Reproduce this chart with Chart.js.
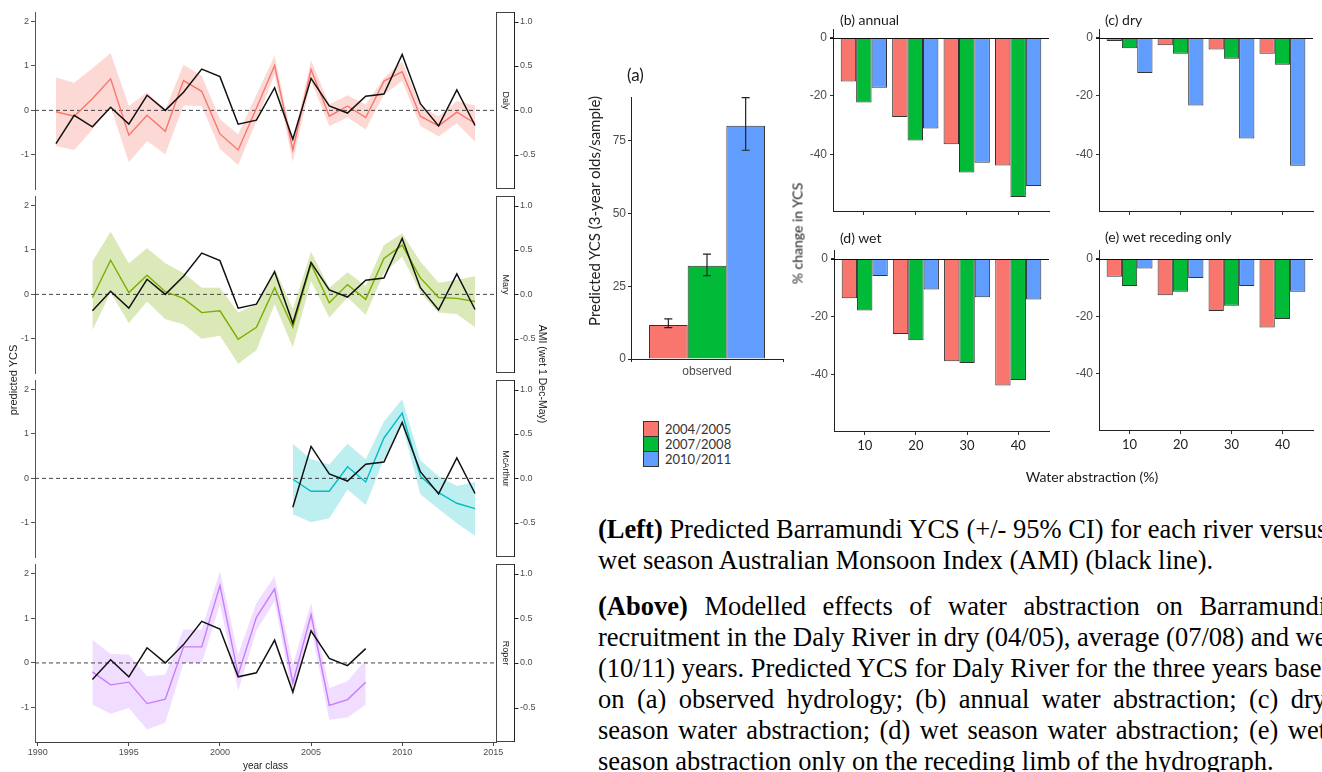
<!DOCTYPE html>
<html lang="en">
<head>
<meta charset="utf-8">
<title>Barramundi YCS</title>
<script src="https://cdn.jsdelivr.net/npm/chart.js@4.4.0/dist/chart.umd.min.js"></script>
<style>
  body { margin:0; width:1322px; height:772px; overflow:hidden; background:#fff; position:relative;
         font-family:'Liberation Sans', Arial, sans-serif; }
  canvas { position:absolute; }
  .lbl { position:absolute; white-space:nowrap; color:#1a1a1a; font-weight:400; }
  .rot { transform-origin:center center; }
  .cap { position:absolute; left:598px; font-family:'Liberation Serif','Times New Roman',serif;
         font-size:26.5px; color:#000; }
  .cap div { height:31px; line-height:31px; white-space:nowrap; }
  .key { position:absolute; width:14px; height:14px; border:1px solid #333; }
</style>
</head>
<body>
<!-- left: YCS by river -->
<canvas id="daly" width="540" height="185" style="left:0;top:8px"></canvas>
<canvas id="mary" width="540" height="185" style="left:0;top:192px"></canvas>
<canvas id="mcarthur" width="540" height="185" style="left:0;top:376px"></canvas>
<canvas id="roper" width="540" height="212" style="left:0;top:560px"></canvas>
<div class="lbl rot" style="left:-32px;top:374px;width:90px;text-align:center;font-size:11px;transform:rotate(-90deg);">predicted YCS</div>
<div class="lbl rot" style="left:488px;top:368px;width:110px;text-align:center;font-size:10.5px;transform:rotate(90deg);">AMI (wet 1 Dec-May)</div>

<!-- right: water abstraction -->
<canvas id="obs" width="240" height="340" style="left:560px;top:60px"></canvas>
<div class="lbl" style="left:627px;top:64px;font-family:Lato;font-size:17px;">(a)</div>
<div class="lbl rot" style="left:469px;top:202px;width:250px;text-align:center;font-family:Lato;font-size:15px;color:#222;transform:rotate(-90deg);">Predicted YCS (3-year olds/sample)</div>
<div class="key" style="left:643px;top:421px;background:#F8766D"></div>
<div class="key" style="left:643px;top:436px;background:#00BA38"></div>
<div class="key" style="left:643px;top:451px;background:#619CFF"></div>
<div class="lbl" style="left:665px;top:421px;font-family:Lato;font-size:13px;color:#333">2004/2005</div>
<div class="lbl" style="left:665px;top:436px;font-family:Lato;font-size:13px;color:#333">2007/2008</div>
<div class="lbl" style="left:665px;top:451px;font-family:Lato;font-size:13px;color:#333">2010/2011</div>

<canvas id="annual" width="265" height="225" style="left:790px;top:0"></canvas>
<canvas id="dry" width="267" height="225" style="left:1055px;top:0"></canvas>
<canvas id="wet" width="265" height="240" style="left:790px;top:225px"></canvas>
<canvas id="receding" width="267" height="240" style="left:1055px;top:225px"></canvas>
<div class="lbl" style="left:840px;top:11px;font-family:Lato;font-size:14px;">(b) annual</div>
<div class="lbl" style="left:1105px;top:11px;font-family:Lato;font-size:14px;">(c) dry</div>
<div class="lbl" style="left:840px;top:229px;font-family:Lato;font-size:14px;">(d) wet</div>
<div class="lbl" style="left:1105px;top:228px;font-family:Lato;font-size:14px;">(e) wet receding only</div>
<div class="lbl rot" style="left:737px;top:225px;width:120px;text-align:center;font-family:Lato;font-size:14px;color:#222;transform:rotate(-90deg);">% change in YCS</div>
<div class="lbl" style="left:1012px;top:468px;width:160px;text-align:center;font-family:Lato;font-size:14px;">Water abstraction (%)</div>

<div class="cap" style="top:514px">
  <div class="j"><span><b>(Left)</b> Predicted Barramundi YCS (+/- 95% CI) for each river versus</span></div>
  <div><span>wet season Australian Monsoon Index (AMI) (black line).</span></div>
</div>
<div class="cap" style="top:591px">
  <div class="j"><span><b>(Above)</b> Modelled effects of water abstraction on Barramundi</span></div>
  <div class="j"><span>recruitment in the Daly River in dry (04/05), average (07/08) and wet</span></div>
  <div class="j"><span>(10/11) years. Predicted YCS for Daly River for the three years based</span></div>
  <div class="j"><span>on (a) observed hydrology; (b) annual water abstraction; (c) dry</span></div>
  <div class="j"><span>season water abstraction; (d) wet season water abstraction; (e) wet</span></div>
  <div><span>season abstraction only on the receding limb of the hydrograph.</span></div>
</div>

<script>
// ---- data: left panels (YCS per river, AMI) ----
var amiStart = 1991;
var ami = [-0.375, -0.055, -0.185, 0.035, -0.155, 0.17, 0.0, 0.205, 0.465, 0.38, -0.155, -0.11,
           0.255, -0.325, 0.36, 0.05, -0.03, 0.16, 0.185, 0.63, 0.075, -0.175, 0.23, -0.17];

var dalyStart = 1991;
var dalyFit = [-0.03, -0.13, 0.26, 0.71, -0.56, -0.11, -0.47, 0.67, 0.43, -0.53, -0.89, 0.05,
               1.01, -0.89, 0.92, -0.13, 0.10, -0.16, 0.66, 0.87, -0.13, -0.35, -0.04, -0.29];
var dalyLo  = [-0.80, -0.89, -0.43, 0.08, -1.17, -0.69, -0.99, 0.11, 0.10, -0.87, -1.23, -0.25,
               0.81, -1.16, 0.66, -0.35, -0.16, -0.43, 0.35, 0.66, -0.35, -0.59, -0.29, -0.71];
var dalyHi  = [0.74, 0.62, 0.95, 1.29, 0.10, 0.41, 0.02, 1.03, 0.78, -0.20, -0.54, 0.35,
               1.23, -0.72, 1.13, 0.13, 0.34, 0.13, 0.73, 1.10, 0.10, -0.13, 0.21, 0.11];

var maryStart = 1993;
var maryFit = [-0.07, 0.77, 0.04, 0.43, 0.06, -0.09, -0.41, -0.37, -1.01, -0.74, 0.15,
               -0.74, 0.68, -0.19, 0.22, -0.11, 0.81, 1.11, 0.37, -0.07, -0.09, -0.16];
var maryLo  = [-0.81, 0.04, -0.65, -0.16, -0.56, -0.67, -1.00, -0.93, -1.56, -1.26, -0.22,
               -1.19, 0.30, -0.52, -0.07, -0.46, 0.48, 0.85, 0.04, -0.41, -0.44, -0.74];
var maryHi  = [0.74, 1.41, 0.70, 1.04, 0.70, 0.48, 0.15, 0.15, -0.41, -0.22, 0.59,
               -0.33, 0.96, 0.15, 0.50, 0.19, 1.11, 1.37, 0.74, 0.26, 0.33, 0.41];

var mcaStart = 2004;
var mcaFit = [-0.02, -0.29, -0.29, 0.26, -0.08, 0.91, 1.47, 0.05, -0.32, -0.56, -0.68];
var mcaLo  = [-0.81, -0.99, -0.90, -0.25, -0.60, 0.43, 1.21, -0.36, -0.69, -1.01, -1.29];
var mcaHi  = [0.78, 0.43, 0.31, 0.78, 0.43, 1.28, 1.78, 0.41, 0.05, -0.17, -0.08];

var roperStart = 1993;
var roperFit = [-0.20, -0.49, -0.43, -0.91, -0.81, 0.36, 0.36, 1.73, -0.26, 1.02, 1.66, -0.45,
                1.08, -0.95, -0.82, -0.43];
var roperLo  = [-0.93, -1.14, -1.01, -1.49, -1.34, 0.00, 0.00, 1.31, -0.63, 0.72, 1.38, -0.78,
                0.80, -1.27, -1.22, -0.93];
var roperHi  = [0.52, 0.20, 0.19, -0.30, -0.26, 0.75, 0.75, 2.05, 0.19, 1.34, 1.94, -0.04,
                1.34, -0.56, -0.41, 0.07];

var yearTicks = [1990, 1995, 2000, 2005, 2010, 2015];
var ycsTicks = [-1, 0, 1, 2];
var amiTicks = [-0.5, 0, 0.5, 1];

// ---- data: right panels ----
var periods = ['2004/2005', '2007/2008', '2010/2011'];
var periodColors = ['#F8766D', '#00BA38', '#619CFF'];
var obsYCS = [11.7, 32.0, 80.1];
var obsLo  = [10.8, 28.6, 71.7];
var obsHi  = [13.8, 36.0, 89.8];

var abstraction = ['10', '20', '30', '40'];
var annual0405 = [-15.0, -27.2, -36.6, -43.9];
var annual0708 = [-22.2, -35.3, -46.3, -54.7];
var annual1011 = [-17.2, -31.2, -42.9, -50.9];
var dry0405 = [-1.1, -2.6, -4.0, -5.5];
var dry0708 = [-3.6, -5.5, -7.2, -9.3];
var dry1011 = [-12.1, -23.3, -34.6, -44.0];
var wet0405 = [-13.7, -26.0, -35.4, -43.8];
var wet0708 = [-17.9, -28.2, -36.0, -41.9];
var wet1011 = [-6.0, -10.6, -13.3, -14.1];
var rec0405 = [-6.3, -12.7, -18.2, -23.9];
var rec0708 = [-9.5, -11.5, -16.4, -21.0];
var rec1011 = [-3.4, -6.7, -9.5, -11.5];
var pctTicks = [-40, -20, 0];

Chart.defaults.font.family = "'Liberation Sans', Arial, sans-serif";
Chart.defaults.animation = false;
Chart.defaults.responsive = false;
Chart.defaults.plugins.legend.display = false;
Chart.defaults.plugins.tooltip.enabled = false;

function pts(start, vals) {
  return vals.map(function(v, i) { return { x: start + i, y: v }; });
}
function fixedTicks(list) {
  return function(s) { s.ticks = list.map(function(v) { return { value: v }; }); };
}
// pin axis box sizes so the plot areas land where the reference has them
function fitV(w) {
  return function(s) { s.width = w; s.paddingTop = 0; s.paddingBottom = 0; };
}
function fitH(h) {
  return function(s) { s.height = h; s.paddingLeft = 0; s.paddingRight = 0; };
}

// facet strip + right AMI axis line for the left panels
var facetPlugin = {
  id: 'facet',
  afterDraw: function(chart, args, opts) {
    var a = chart.chartArea, ctx = chart.ctx, y2 = chart.scales.y2;
    var sx = Math.round(a.right) + 0.5, sw = 18;
    ctx.save();
    ctx.fillStyle = '#fff';
    ctx.fillRect(sx, a.top, sw, a.bottom - a.top);
    ctx.strokeStyle = '#444';
    ctx.lineWidth = 1;
    ctx.strokeRect(sx, Math.round(a.top) + 0.5, sw, Math.round(a.bottom - a.top) - 1);
    var ax = sx + sw;
    ctx.strokeStyle = '#222';
    ctx.beginPath();
    ctx.moveTo(ax, a.top); ctx.lineTo(ax, a.bottom);
    y2.ticks.forEach(function(t) {
      var py = Math.round(y2.getPixelForValue(t.value)) + 0.5;
      ctx.moveTo(ax, py); ctx.lineTo(ax + 4, py);
    });
    ctx.stroke();
    ctx.translate(sx + sw / 2, (a.top + a.bottom) / 2);
    ctx.rotate(Math.PI / 2);
    ctx.fillStyle = '#222';
    ctx.font = "9px 'Liberation Sans', Arial";
    ctx.textAlign = 'center';
    ctx.textBaseline = 'middle';
    ctx.fillText(opts.label, 0, 0);
    ctx.restore();
  }
};

function riverChart(id, label, start, fit, lo, hi, col, band, amiFrom, amiTo, bottom) {
  var amiPts = pts(amiStart, ami).filter(function(p) { return p.x >= amiFrom && p.x <= amiTo; });
  new Chart(document.getElementById(id), {
    type: 'line',
    data: {
      datasets: [
        { data: amiPts, yAxisID: 'y2', borderColor: '#111', borderWidth: 1.5, pointRadius: 0 },
        { data: pts(start, fit), borderColor: col, borderWidth: 1.4, pointRadius: 0 },
        { data: [{ x: 1989.85, y: 0 }, { x: 2015.15, y: 0 }], borderColor: '#444', borderWidth: 1,
          borderDash: [4, 3], pointRadius: 0 },
        { data: pts(start, hi), borderWidth: 0, pointRadius: 0 },
        { data: pts(start, lo), borderWidth: 0, pointRadius: 0, fill: '-1', backgroundColor: band }
      ]
    },
    options: {
      layout: { padding: { top: 4, bottom: bottom ? 0 : 4, left: 0, right: 0 } },
      scales: {
        x: {
          type: 'linear', min: 1989.85, max: 2015.15, display: bottom,
          afterBuildTicks: fixedTicks(yearTicks),
          afterFit: fitH(bottom ? 30 : 0),
          grid: { drawOnChartArea: false, tickLength: 4, color: '#444' },
          border: { display: true, color: '#444' },
          ticks: { font: { size: 9 }, color: '#4d4d4d', padding: 1, maxRotation: 0,
                   callback: function(v) { return String(v); } },
          title: { display: true, text: 'year class', font: { size: 10 }, color: '#222', padding: 0 }
        },
        y: {
          min: -1.77, max: 2.215,
          afterBuildTicks: fixedTicks(ycsTicks),
          afterFit: fitV(35),
          grid: { drawOnChartArea: false, tickLength: 4, color: '#555' },
          border: { display: true, color: '#555' },
          ticks: { font: { size: 9 }, color: '#4d4d4d', padding: 2 }
        },
        y2: {
          position: 'right', min: -0.885, max: 1.1075,
          afterBuildTicks: fixedTicks(amiTicks),
          afterFit: fitV(44),
          grid: { display: false, drawTicks: false },
          border: { display: false },
          ticks: { font: { size: 9 }, color: '#4d4d4d', padding: 24,
                   callback: function(v) { return v.toFixed(1); } }
        }
      },
      plugins: { facet: { label: label } }
    },
    plugins: [facetPlugin]
  });
}

riverChart('daly', 'Daly', dalyStart, dalyFit, dalyLo, dalyHi, '#F8766D', 'rgba(248,118,109,0.28)', 1991, 2014, false);
riverChart('mary', 'Mary', maryStart, maryFit, maryLo, maryHi, '#7CAE00', 'rgba(124,174,0,0.28)', 1993, 2014, false);
riverChart('mcarthur', 'McArthur', mcaStart, mcaFit, mcaLo, mcaHi, '#00BFC4', 'rgba(0,191,196,0.26)', 2004, 2014, false);
riverChart('roper', 'Roper', roperStart, roperFit, roperLo, roperHi, '#C77CFF', 'rgba(199,124,255,0.26)', 1993, 2008, true);

// (a) observed YCS with 95% CI
var errorBars = {
  id: 'errorBars',
  afterDatasetsDraw: function(chart) {
    var ctx = chart.ctx, ys = chart.scales.y;
    ctx.save();
    ctx.strokeStyle = '#222';
    ctx.lineWidth = 1.2;
    chart.data.datasets.forEach(function(ds, i) {
      var x = chart.getDatasetMeta(i).data[0].x;
      var t = ys.getPixelForValue(obsHi[i]), b = ys.getPixelForValue(obsLo[i]);
      ctx.beginPath();
      ctx.moveTo(x, t); ctx.lineTo(x, b);
      ctx.moveTo(x - 4, t); ctx.lineTo(x + 4, t);
      ctx.moveTo(x - 4, b); ctx.lineTo(x + 4, b);
      ctx.stroke();
    });
    ctx.restore();
  }
};

new Chart(document.getElementById('obs'), {
  type: 'bar',
  data: {
    labels: ['observed'],
    datasets: periods.map(function(p, i) {
      return { label: p, data: [obsYCS[i]], backgroundColor: periodColors[i],
               borderColor: '#333', borderWidth: 1 };
    })
  },
  options: {
    categoryPercentage: 0.763, barPercentage: 1,
    layout: { padding: { top: 37, right: 17, left: 0, bottom: 0 } },
    scales: {
      x: {
        afterFit: fitH(41),
        grid: { drawOnChartArea: false, tickLength: 3, color: '#222' },
        border: { color: '#222' },
        ticks: { font: { size: 12 }, color: '#4d4d4d', padding: 2 }
      },
      y: {
        min: 0, max: 90,
        afterBuildTicks: fixedTicks([0, 25, 50, 75]),
        afterFit: fitV(71),
        grid: { drawOnChartArea: false, tickLength: 3, color: '#222' },
        border: { color: '#222' },
        ticks: { font: { size: 12 }, color: '#4d4d4d', padding: 2 }
      }
    }
  },
  plugins: [errorBars]
});

// (b)-(e) % change in YCS
var zeroLine = {
  id: 'zeroLine',
  afterDatasetsDraw: function(chart) {
    var a = chart.chartArea, ctx = chart.ctx;
    var y = Math.round(chart.scales.y.getPixelForValue(0)) + 0.5;
    ctx.save();
    ctx.strokeStyle = '#111';
    ctx.lineWidth = 1;
    ctx.beginPath(); ctx.moveTo(a.left - 3, y); ctx.lineTo(a.right, y); ctx.stroke();
    ctx.restore();
  }
};

function abstractionChart(id, sets, showLabels, padTop, padRight, yWidth, xHeight) {
  new Chart(document.getElementById(id), {
    type: 'bar',
    data: {
      datasets: sets.map(function(vals, i) {
        return { label: periods[i], backgroundColor: periodColors[i], borderColor: '#333', borderWidth: 1,
                 data: vals.map(function(v, j) { return { x: j + 1, y: v }; }) };
      })
    },
    options: {
      categoryPercentage: 0.9, barPercentage: 1,
      layout: { padding: { top: padTop, right: padRight, left: 0, bottom: 0 } },
      scales: {
        x: {
          type: 'linear', min: 0.4, max: 4.6, offset: false,
          afterBuildTicks: fixedTicks([1, 2, 3, 4]),
          afterFit: fitH(xHeight),
          grid: { drawOnChartArea: false, tickLength: 4, color: '#333', offset: false },
          border: { color: '#222' },
          ticks: { display: showLabels, font: { family: 'Lato', size: 13 }, color: '#222', padding: 3,
                   callback: function(v) { return abstraction[v - 1]; } }
        },
        y: {
          min: -59.5, max: 3,
          afterBuildTicks: fixedTicks(pctTicks),
          afterFit: fitV(yWidth),
          grid: { drawOnChartArea: false, tickLength: 3, color: '#333' },
          border: { color: '#222' },
          ticks: { font: { size: 12 }, color: '#4d4d4d', padding: 3 }
        }
      }
    },
    plugins: [zeroLine]
  });
}

abstractionChart('annual', [annual0405, annual0708, annual1011], false, 29, 6, 43, 14);
abstractionChart('dry', [dry0405, dry0708, dry1011], false, 29, 9, 44, 14);
abstractionChart('wet', [wet0405, wet0708, wet1011], true, 25, 6, 44, 34);
abstractionChart('receding', [rec0405, rec0708, rec1011], true, 25, 9, 44, 35);

// justify caption lines to the same width
var capWidth = 728;
document.querySelectorAll('.cap .j').forEach(function(el) {
  var sp = el.firstElementChild;
  var w = sp.getBoundingClientRect().width;
  var n = (sp.textContent.match(/ /g) || []).length;
  if (w < capWidth && n) sp.style.wordSpacing = ((capWidth - w) / n) + 'px';
});
</script>
</body>
</html>
